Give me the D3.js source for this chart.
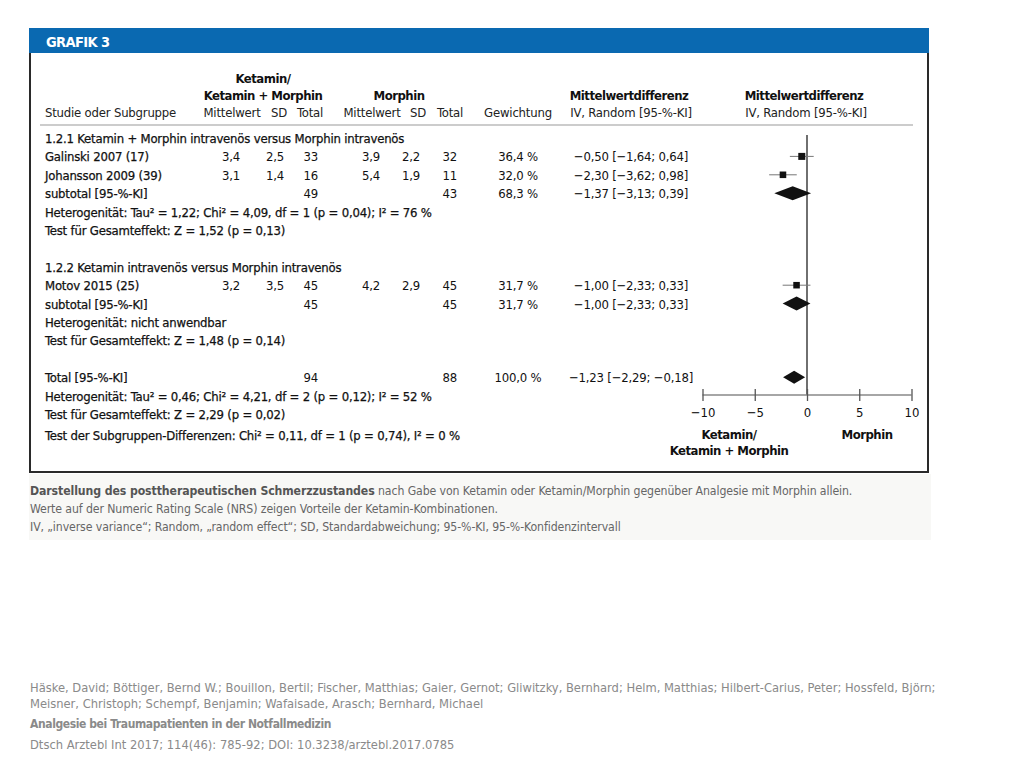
<!DOCTYPE html>
<html><head><meta charset="utf-8">
<script src="https://cdn.jsdelivr.net/npm/d3@7"></script>
<style>
body{margin:0;background:#fff;}
svg text{font-family:"DejaVu Sans Condensed","Liberation Sans Narrow",sans-serif;}
</style></head>
<body><svg id="c" width="1024" height="768"></svg>
<script>
// ---- data ----
const studies = ["Galinski 2007 (17)", "Johansson 2009 (39)", "Motov 2015 (25)"];
const studyRow = [1, 2, 8];
const ketMean = ["3,4", "3,1", "3,2"];
const ketSD = ["2,5", "1,4", "3,5"];
const ketN = [33, 16, 45];
const morMean = ["3,9", "5,4", "4,2"];
const morSD = ["2,2", "1,9", "2,9"];
const morN = [32, 11, 45];
const weights = ["36,4 %", "32,0 %", "31,7 %"];
const weightVal = [36.4, 32.0, 31.7];
const md = [-0.50, -2.30, -1.00];
const ciLo = [-1.64, -3.62, -2.33];
const ciHi = [0.64, -0.98, 0.33];
const mdLabels = ["\u22120,50 [\u22121,64; 0,64]", "\u22122,30 [\u22123,62; 0,98]", "\u22121,00 [\u22122,33; 0,33]"];

const pooledNames = ["subtotal [95-%-KI]", "subtotal [95-%-KI]", "Total [95-%-KI]"];
const pooledRow = [3, 9, 13];
const pooledKetN = [49, 45, 94];
const pooledMorN = [43, 45, 88];
const pooledWeight = ["68,3 %", "31,7 %", "100,0 %"];
const pooledMD = [-1.37, -1.00, -1.23];
const pooledLo = [-3.13, -2.33, -2.29];
const pooledHi = [0.39, 0.33, -0.18];
const pooledLabels = ["\u22121,37 [\u22123,13; 0,39]", "\u22121,00 [\u22122,33; 0,33]", "\u22121,23 [\u22122,29; \u22120,18]"];

const noteRows = [0, 4, 5, 7, 10, 11, 14, 15, 16.15];
const notes = [
  "1.2.1 Ketamin + Morphin intraven\u00f6s versus Morphin intraven\u00f6s",
  "Heterogenit\u00e4t:  Tau\u00b2 = 1,22; Chi\u00b2 = 4,09, df = 1 (p = 0,04); I\u00b2 = 76 %",
  "Test f\u00fcr Gesamteffekt:  Z = 1,52 (p = 0,13)",
  "1.2.2 Ketamin intraven\u00f6s versus Morphin intraven\u00f6s",
  "Heterogenit\u00e4t:  nicht anwendbar",
  "Test f\u00fcr Gesamteffekt:  Z = 1,48 (p = 0,14)",
  "Heterogenit\u00e4t:  Tau\u00b2 = 0,46; Chi\u00b2 = 4,21, df = 2 (p = 0,12); I\u00b2 = 52 %",
  "Test f\u00fcr Gesamteffekt:  Z = 2,29 (p = 0,02)",
  "Test der Subgruppen-Differenzen:  Chi\u00b2 = 0,11, df = 1 (p = 0,74), I\u00b2 = 0 %"
];

const axisTicks = [-10, -5, 0, 5, 10];
const axisLeft = ["Ketamin/", "Ketamin + Morphin"];
const axisRight = "Morphin";

const captionBold = "Darstellung des posttherapeutischen Schmerzzustandes";
const captionRest = " nach Gabe von Ketamin oder Ketamin/Morphin gegen\u00fcber Analgesie mit Morphin allein.";
const captionLines = [
  "Werte auf der Numeric Rating Scale (NRS) zeigen Vorteile der Ketamin-Kombinationen.",
  "IV, \u201einverse variance\u201c; Random, \u201erandom effect\u201c; SD, Standardabweichung; 95-%-KI, 95-%-Konfidenzintervall"
];
const citation = [
  "H\u00e4ske, David; B\u00f6ttiger, Bernd W.; Bouillon, Bertil; Fischer, Matthias; Gaier, Gernot; Gliwitzky, Bernhard; Helm, Matthias; Hilbert-Carius, Peter; Hossfeld, Bj\u00f6rn;",
  "Meisner, Christoph; Schempf, Benjamin; Wafaisade, Arasch; Bernhard, Michael",
  "Analgesie bei Traumapatienten in der Notfallmedizin",
  "Dtsch Arztebl Int 2017; 114(46): 785-92; DOI: 10.3238/arztebl.2017.0785"
];

// ---- drawing ----
const svg = d3.select("#c");
const ink = "#111";
const fs = 13;

// caption background
svg.append("rect").attr("x", 29).attr("y", 474).attr("width", 902).attr("height", 66).attr("fill", "#f8f8f6");

// header band
svg.append("rect").attr("x", 29).attr("y", 28).attr("width", 900).attr("height", 25).attr("fill", "#0a69b1");
svg.append("text").attr("x", 46).attr("y", 47).attr("fill", "#fff").attr("font-weight", "bold")
  .attr("font-size", 14.5).attr("letter-spacing", -0.6).text("GRAFIK 3");

// frame
svg.append("path").attr("d", "M30,53 V472 H928 V53").attr("fill", "none").attr("stroke", "#2a2a2a").attr("stroke-width", 2);

// row scale
const y = d3.scaleLinear().domain([0, 16]).range([138, 432.4]);
const x = d3.scaleLinear().domain([-10, 10]).range([702.5, 911.5]);

function txt(xp, yp, s, anchor, opts = {}) {
  return svg.append("text").attr("x", xp).attr("y", yp).attr("text-anchor", anchor || "start")
    .attr("font-size", opts.size || fs).attr("fill", opts.fill || ink)
    .attr("letter-spacing", opts.ls !== undefined ? opts.ls : (opts.bold ? -0.5 : -0.2))
    .attr("font-weight", opts.bold ? "bold" : "normal").text(s);
}

// column headers
const hb = [83, 100, 117];
txt(263, hb[0], "Ketamin/", "middle", {bold: true});
txt(263, hb[1], "Ketamin + Morphin", "middle", {bold: true});
txt(399, hb[1], "Morphin", "middle", {bold: true});
txt(629, hb[1], "Mittelwertdifferenz", "middle", {bold: true});
txt(804, hb[1], "Mittelwertdifferenz", "middle", {bold: true});
txt(45, hb[2], "Studie oder Subgruppe", "start", {fill: "#222"});
txt(232, hb[2], "Mittelwert", "middle", {fill: "#222"});
txt(279, hb[2], "SD", "middle", {fill: "#222"});
txt(310, hb[2], "Total", "middle", {fill: "#222"});
txt(372, hb[2], "Mittelwert", "middle", {fill: "#222"});
txt(418, hb[2], "SD", "middle", {fill: "#222"});
txt(450, hb[2], "Total", "middle", {fill: "#222"});
txt(518, hb[2], "Gewichtung", "middle", {fill: "#222"});
txt(631, hb[2], "IV, Random [95-%-KI]", "middle", {fill: "#222"});
txt(806, hb[2], "IV, Random [95-%-KI]", "middle", {fill: "#222"});
svg.append("line").attr("x1", 40).attr("x2", 913).attr("y1", 125).attr("y2", 125).attr("stroke", "#9a9a9a").attr("stroke-width", 1.2);

const base = r => y(r) + 5;

// notes
notes.forEach((n, i) => txt(45, base(noteRows[i]), n, "start").attr("stroke", ink).attr("stroke-width", 0.25));

// studies
studies.forEach((s, i) => {
  const b = base(studyRow[i]);
  txt(45, b, s).attr("stroke", ink).attr("stroke-width", 0.25);
  txt(240, b, ketMean[i], "end");
  txt(284, b, ketSD[i], "end");
  txt(318, b, ketN[i], "end");
  txt(380, b, morMean[i], "end");
  txt(420, b, morSD[i], "end");
  txt(457, b, morN[i], "end");
  txt(518, b, weights[i], "middle");
  txt(631, b, mdLabels[i], "middle");
});
pooledNames.forEach((s, i) => {
  const b = base(pooledRow[i]);
  txt(45, b, s).attr("stroke", ink).attr("stroke-width", 0.25);
  txt(318, b, pooledKetN[i], "end");
  txt(457, b, pooledMorN[i], "end");
  txt(518, b, pooledWeight[i], "middle");
  txt(631, b, pooledLabels[i], "middle");
});

// zero line
svg.append("line").attr("x1", x(0)).attr("x2", x(0)).attr("y1", 135).attr("y2", 395)
  .attr("stroke", "#333").attr("stroke-width", 1.4);

// study CIs and squares
const sz = d3.scaleSqrt().domain([0, 36.4]).range([0, 7]);
studies.forEach((s, i) => {
  const cy = y(studyRow[i]);
  svg.append("line").attr("x1", x(ciLo[i])).attr("x2", x(ciHi[i])).attr("y1", cy).attr("y2", cy)
    .attr("stroke", "#777").attr("stroke-width", 1);
  const w = sz(weightVal[i]);
  svg.append("rect").attr("x", x(md[i]) - w / 2).attr("y", cy - w / 2).attr("width", w).attr("height", w).attr("fill", "#111");
});
// diamonds
const dh = [7, 7, 6.5];
pooledNames.forEach((s, i) => {
  const cy = y(pooledRow[i]);
  const pts = [[x(pooledLo[i]), cy], [x(pooledMD[i]), cy - dh[i]], [x(pooledHi[i]), cy], [x(pooledMD[i]), cy + dh[i]]];
  svg.append("polygon").attr("points", pts.map(p => p.join(",")).join(" ")).attr("fill", "#111");
});

// axis
const axisY = 395;
const ax = svg.append("g").attr("transform", `translate(0,${axisY})`)
  .call(d3.axisBottom(x).tickValues(axisTicks).tickSize(6).tickPadding(8)
    .tickFormat(d => d < 0 ? "\u2212" + Math.abs(d) : d));
ax.select(".domain").attr("stroke", "#888").attr("stroke-width", 1.3).attr("d", `M${x(-10)},0H${x(10)}`);
ax.selectAll(".tick line").attr("y1", -6).attr("y2", 6).attr("stroke", "#555").attr("stroke-width", 1.3);
ax.selectAll(".tick text").attr("font-size", fs).attr("fill", ink).attr("y", 13)
  .attr("font-family", "DejaVu Sans Condensed, sans-serif");
txt(729, 439, axisLeft[0], "middle", {bold: true});
txt(729, 455, axisLeft[1], "middle", {bold: true});
txt(867, 439, axisRight, "middle", {bold: true});

// caption
const cap = svg.append("text").attr("x", 30).attr("y", 495).attr("font-size", 12.2).attr("fill", "#666").attr("letter-spacing", -0.1);
cap.append("tspan").attr("font-weight", "bold").attr("fill", "#555").text(captionBold);
cap.append("tspan").text(captionRest);
captionLines.forEach((l, i) => txt(30, 513 + i * 18, l, "start", {fill: "#666", size: 12.2, ls: -0.1}));

// citation
const cy0 = [692, 708, 728, 749];
citation.forEach((l, i) => {
  svg.append("text").attr("x", 30).attr("y", cy0[i]).attr("font-size", i === 2 ? 12 : 12.8)
    .attr("fill", "#8a8a8a").attr("font-weight", i === 2 ? "bold" : "normal")
    .attr("letter-spacing", i === 2 ? -0.4 : 0).text(l);
});
</script></body></html>
